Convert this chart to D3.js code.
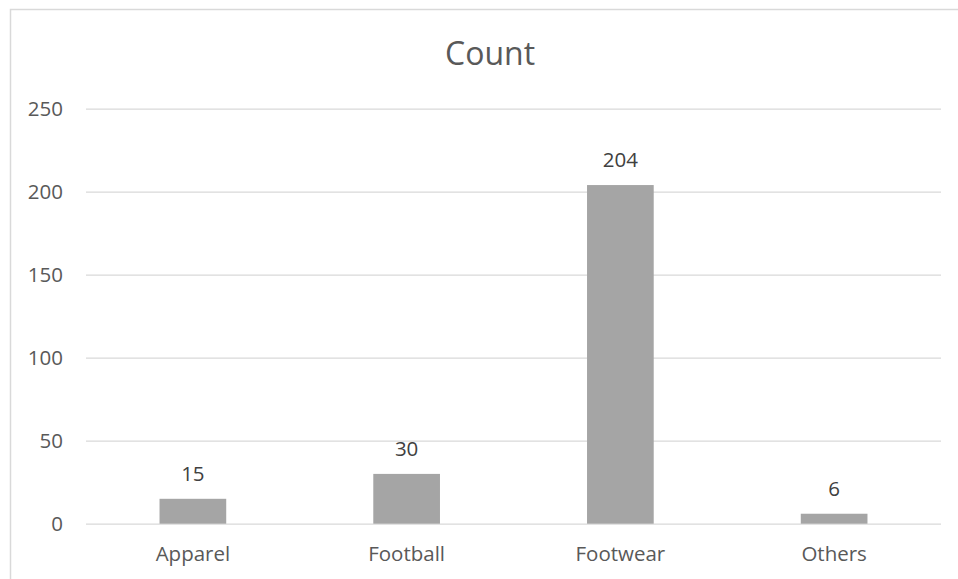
<!DOCTYPE html>
<html>
<head>
<meta charset="utf-8">
<script src="https://cdn.jsdelivr.net/npm/d3@7"></script>
<style>
  html, body { margin: 0; padding: 0; background: #fff; }
  svg { display: block; }
  text { font-family: "Open Sans", sans-serif; fill: #595959; }
</style>
</head>
<body>
<svg id="chart" width="958" height="579"></svg>
<script>
// Counts per product category
const categories = ["Apparel", "Football", "Footwear", "Others"];
const counts = [15, 30, 204, 6];
const yTicks = [0, 50, 100, 150, 200, 250];
const title = "Count";

const svg = d3.select("#chart");
const W = 958, H = 579;
const plot = { left: 86, right: 941, top: 108.7, bottom: 523.7 };

// Chart frame (extends past the right and bottom edges)
svg.append("rect")
  .attr("x", 10.5).attr("y", 9.5)
  .attr("width", W + 20).attr("height", H + 20)
  .attr("fill", "none").attr("stroke", "#d9d9d9").attr("stroke-width", 1.5);

const x = d3.scaleBand()
  .domain(categories)
  .range([plot.left, plot.right])
  .paddingInner(0.688)
  .paddingOuter(0.344);

const y = d3.scaleLinear()
  .domain([0, 250])
  .range([plot.bottom, plot.top]);

// Horizontal gridlines with value labels
const yAxis = d3.axisLeft(y)
  .tickValues(yTicks)
  .tickSize(-(plot.right - plot.left))
  .tickPadding(23);
const gy = svg.append("g")
  .attr("transform", `translate(${plot.left},0)`)
  .call(yAxis);
gy.select(".domain").remove();
gy.selectAll(".tick line").attr("stroke", "#d9d9d9").attr("stroke-width", 1.3);
gy.selectAll(".tick text")
  .attr("font-size", 20.5)
  .attr("font-family", "Open Sans, sans-serif")
  .attr("fill", "#595959");

// Category labels
const xAxis = d3.axisBottom(x).tickSize(0).tickPadding(23);
const gx = svg.append("g")
  .attr("transform", `translate(0,${plot.bottom})`)
  .call(xAxis);
gx.select(".domain").remove();
gx.selectAll(".tick text")
  .attr("font-size", 20.5)
  .attr("font-family", "Open Sans, sans-serif")
  .attr("fill", "#595959");

// Bars
svg.append("g").selectAll("rect")
  .data(categories)
  .join("rect")
  .attr("x", d => x(d))
  .attr("width", x.bandwidth())
  .attr("y", (d, i) => y(counts[i]))
  .attr("height", (d, i) => y(0) - y(counts[i]))
  .attr("fill", "#a5a5a5");

// Value labels above bars
svg.append("g").selectAll("text")
  .data(categories)
  .join("text")
  .attr("x", d => x(d) + x.bandwidth() / 2)
  .attr("y", (d, i) => y(counts[i]) - 18)
  .attr("text-anchor", "middle")
  .attr("font-size", 20.5)
  .style("fill", "#404040")
  .text((d, i) => counts[i]);

// Title
svg.append("text")
  .attr("x", 490)
  .attr("y", 65)
  .attr("text-anchor", "middle")
  .attr("font-size", 32)
  .text(title);
</script>
</body>
</html>
